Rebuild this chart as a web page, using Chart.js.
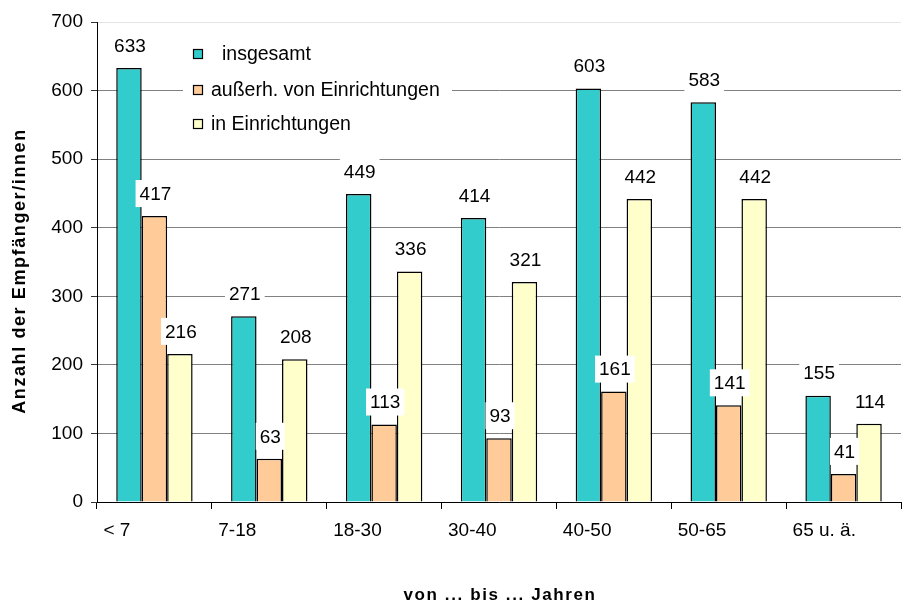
<!DOCTYPE html>
<html>
<head>
<meta charset="utf-8">
<script src="https://cdn.jsdelivr.net/npm/chart.js@4/dist/chart.umd.min.js"></script>
<style>
  html, body { margin: 0; padding: 0; background: #fff; }
  #wrap { width: 902px; height: 606px; }
</style>
</head>
<body>
<div id="wrap"><canvas id="c" width="902" height="606"></canvas></div>
<script>
const categories = ['< 7', '7-18', '18-30', '30-40', '40-50', '50-65', '65 u. ä.'];
const insgesamt = [633, 271, 449, 414, 603, 583, 155];
const ausserhalb = [417, 63, 113, 93, 161, 141, 41];
const inEinrichtungen = [216, 208, 336, 321, 442, 442, 114];
const seriesNames = ['insgesamt', 'außerh. von Einrichtungen', 'in Einrichtungen'];
const yTicks = [0, 100, 200, 300, 400, 500, 600, 700];
const yTitle = 'Anzahl der Empfänger/innen';
const xTitle = 'von ... bis ... Jahren';

const FONT = '"Liberation Sans", Arial, sans-serif';
const colors = ['#33CCCC', '#FFCC99', '#FFFFCC'];

const overlay = {
  id: 'overlay',
  afterDatasetsDraw(chart) {
    const ctx = chart.ctx;
    ctx.save();
    ctx.font = '19px ' + FONT;
    ctx.textAlign = 'center';
    ctx.textBaseline = 'middle';
    chart.data.datasets.forEach((ds, di) => {
      const meta = chart.getDatasetMeta(di);
      meta.data.forEach((bar, i) => {
        const txt = String(ds.data[i]);
        const w = ctx.measureText(txt).width + 8;
        const h = 27;
        const bottom = bar.y - 9;
        const cx = bar.x + 1;
        ctx.fillStyle = '#fff';
        ctx.fillRect(cx - w / 2, bottom - h, w, h);
        ctx.fillStyle = '#000';
        ctx.fillText(txt, cx, bottom - h / 2 + 1);
      });
    });
    ctx.restore();
  },
  afterDraw(chart) {
    const ctx = chart.ctx;
    ctx.save();
    // legend
    ctx.fillStyle = '#fff';
    ctx.fillRect(183, 36, 269, 104);
    const rows = [54, 90, 124];
    const textX = [222, 211, 211];
    ctx.font = '19.5px ' + FONT;
    ctx.textBaseline = 'middle';
    ctx.textAlign = 'left';
    seriesNames.forEach((n, i) => {
      ctx.fillStyle = colors[i];
      ctx.fillRect(193.5, rows[i] - 4.5, 9, 9);
      ctx.strokeStyle = '#000';
      ctx.lineWidth = 1.2;
      ctx.strokeRect(193.5, rows[i] - 4.5, 9, 9);
      ctx.fillStyle = '#000';
      ctx.fillText(n, textX[i], rows[i] + 1);
    });
    // axis titles
    ctx.font = 'bold 17px ' + FONT;
    ctx.letterSpacing = '1.6px';
    ctx.textAlign = 'center';
    ctx.fillText(xTitle, 500, 595);
    ctx.translate(20, 271);
    ctx.rotate(-Math.PI / 2);
    ctx.font = 'bold 18px ' + FONT;
    ctx.fillText(yTitle, 0, 0);
    ctx.restore();
  }
};

new Chart(document.getElementById('c'), {
  type: 'bar',
  data: {
    labels: categories,
    datasets: [insgesamt, ausserhalb, inEinrichtungen].map((d, i) => ({
      label: seriesNames[i],
      data: d,
      backgroundColor: colors[i],
      borderColor: '#000',
      borderWidth: 1.5,
      borderSkipped: 'bottom',
      barPercentage: 1,
      categoryPercentage: 0.665
    }))
  },
  options: {
    responsive: false,
    animation: false,
    devicePixelRatio: 1,
    layout: { padding: { top: 22, right: 1, left: 0, bottom: 0 } },
    plugins: { legend: { display: false }, tooltip: { enabled: false } },
    scales: {
      x: {
        afterFit(s) { s.height = 104; s.paddingLeft = 0; s.paddingRight = 0; },
        grid: { display: true, offset: true, drawOnChartArea: false, tickLength: 7, tickColor: '#000', color: '#000' },
        border: { display: true, color: '#000', width: 1 },
        ticks: { font: { family: FONT, size: 19 }, color: '#000', padding: 10, align: 'start', labelOffset: -51, maxRotation: 0, autoSkip: false }
      },
      y: {
        min: 0, max: 700,
        afterFit(s) { s.width = 97; s.paddingTop = 0; s.paddingBottom = 0; },
        afterBuildTicks(s) { s.ticks = yTicks.map(v => ({ value: v })); },
        grid: {
          color: (c) => c.tick && c.tick.value === 700 ? '#e4e4e4' : '#808080',
          tickColor: '#333', tickLength: 6, lineWidth: 1
        },
        border: { display: true, color: '#000', width: 1 },
        ticks: { font: { family: FONT, size: 19 }, color: '#000', padding: 8 }
      }
    }
  },
  plugins: [overlay]
});
</script>
</body>
</html>
